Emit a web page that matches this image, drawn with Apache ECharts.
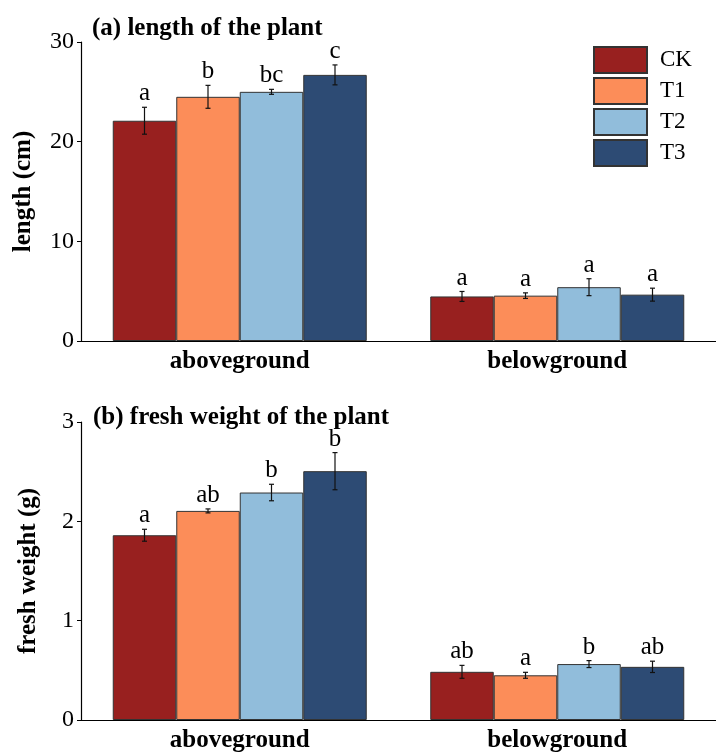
<!DOCTYPE html>
<html><head><meta charset="utf-8">
<script src="https://cdn.jsdelivr.net/npm/echarts@6/dist/echarts.min.js"></script>
<style>html,body{margin:0;padding:0;background:#fff}#c{width:716px;height:753px}</style>
</head><body><div id="c"></div>
<script>
const categories = ['aboveground', 'belowground'];
const groups = ['CK', 'T1', 'T2', 'T3'];
const colors = ['#98201F', '#FC8D59', '#91BDDB', '#2D4B74'];

// (a) length (cm): [aboveground, belowground]
const lenMean = { CK: [22.1, 4.47], T1: [24.5, 4.55], T2: [25.0, 5.40], T3: [26.7, 4.65] };
const lenSE   = { CK: [1.35, 0.5], T1: [1.15, 0.28], T2: [0.25, 0.85], T3: [1.0, 0.65] };
const lenLetters = { CK: ['a', 'a'], T1: ['b', 'a'], T2: ['bc', 'a'], T3: ['c', 'a'] };

// (b) fresh weight (g)
const fwMean = { CK: [1.86, 0.485], T1: [2.105, 0.45], T2: [2.29, 0.563], T3: [2.505, 0.535] };
const fwSE   = { CK: [0.06, 0.065], T1: [0.02, 0.03], T2: [0.083, 0.035], T3: [0.187, 0.057] };
const fwLetters = { CK: ['a', 'ab'], T1: ['ab', 'a'], T2: ['b', 'b'], T3: ['b', 'ab'] };

const lenTicks = { min: 0, max: 30, interval: 10 };
const fwTicks = { min: 0, max: 3, interval: 1 };

const serif = '"Liberation Serif", "DejaVu Serif", serif';

function errSeries(axisIdx, means, ses, letters) {
  const data = [];
  const labs = [];
  groups.forEach((g, gi) => {
    categories.forEach((c, ci) => {
      data.push([ci, means[g][ci], ses[g][ci], gi]);
      labs.push(letters[g][ci]);
    });
  });
  return {
    type: 'custom', xAxisIndex: axisIdx, yAxisIndex: axisIdx, z: 10,
    silent: true,
    data: data,
    renderItem: function (params, api) {
      const ci = api.value(0), m = api.value(1), se = api.value(2), gi = api.value(3);
      const band = api.size([1, 0])[0];
      const bw = band * 0.8 / 4;
      const c = api.coord([ci, m]);
      const x = c[0] + (gi - 1.5) * bw;
      const yTop = api.coord([ci, m + se])[1];
      const yBot = api.coord([ci, m - se])[1];
      const cap = 2.5;
      const st = { stroke: '#111', lineWidth: 1.2 };
      return {
        type: 'group',
        children: [
          { type: 'line', shape: { x1: x, y1: yTop, x2: x, y2: yBot }, style: st },
          { type: 'line', shape: { x1: x - cap, y1: yTop, x2: x + cap, y2: yTop }, style: st },
          { type: 'line', shape: { x1: x - cap, y1: yBot, x2: x + cap, y2: yBot }, style: st },
          { type: 'text', style: { text: labs[params.dataIndex], x: x, y: yTop - 1,
              textAlign: 'center', textVerticalAlign: 'bottom',
              font: '25px ' + serif, fill: '#000' } }
        ]
      };
    }
  };
}

const series = [];
[[lenMean, 0], [fwMean, 1]].forEach(([means, ai]) => {
  groups.forEach((g, gi) => {
    series.push({
      name: g, type: 'bar', xAxisIndex: ai, yAxisIndex: ai,
      data: means[g],
      barGap: '0%', barCategoryGap: '20%',
      itemStyle: { color: colors[gi], borderColor: '#333', borderWidth: 1 },
      emphasis: { disabled: true }
    });
  });
});
series.push(errSeries(0, lenMean, lenSE, lenLetters));
series.push(errSeries(1, fwMean, fwSE, fwLetters));

const xAxisBase = (gi) => ({
  type: 'category', gridIndex: gi, data: categories,
  axisLine: { lineStyle: { color: '#000', width: 1.2 } },
  axisTick: { alignWithLabel: true, length: 4, lineStyle: { color: '#000' } },
  axisLabel: { color: '#000', fontFamily: serif, fontWeight: 'bold', fontSize: 25, margin: 8 }
});
const yAxisBase = (gi, t, name, gap) => ({
  type: 'value', gridIndex: gi, min: t.min, max: t.max, interval: t.interval,
  name: name, nameLocation: 'middle', nameGap: gap,
  nameTextStyle: { color: '#000', fontFamily: serif, fontWeight: 'bold', fontSize: 25 },
  axisLine: { show: true, lineStyle: { color: '#000', width: 1.2 } },
  axisTick: { show: true, length: 4, lineStyle: { color: '#000' } },
  splitLine: { show: false },
  axisLabel: { color: '#000', fontFamily: serif, fontSize: 24, margin: 7, padding: [4, 0, 0, 0] }
});

const chart = echarts.init(document.getElementById('c'));
chart.setOption({
  backgroundColor: '#fff',
  animation: false,
  title: [
    { text: '(a) length of the plant', left: 87, top: 11,
      textStyle: { fontFamily: serif, fontWeight: 'bold', fontSize: 25, color: '#000' } },
    { text: '(b) fresh weight of the plant', left: 88, top: 400,
      textStyle: { fontFamily: serif, fontWeight: 'bold', fontSize: 25, color: '#000' } }
  ],
  legend: {
    data: groups, orient: 'vertical', left: 588, top: 41,
    itemWidth: 53, itemHeight: 26, itemGap: 3, icon: 'rect',
    textStyle: { fontFamily: serif, fontSize: 23, color: '#000', padding: [0, 0, 0, 8] },
    selectedMode: false
  },
  grid: [
    { left: 81, top: 42, width: 641, height: 299 },
    { left: 81, top: 422, width: 641, height: 298 }
  ],
  xAxis: [xAxisBase(0), xAxisBase(1)],
  yAxis: [yAxisBase(0, lenTicks, 'length (cm)', 45), yAxisBase(1, fwTicks, 'fresh weight (g)', 40)],
  series: series
});
</script>
</body></html>
